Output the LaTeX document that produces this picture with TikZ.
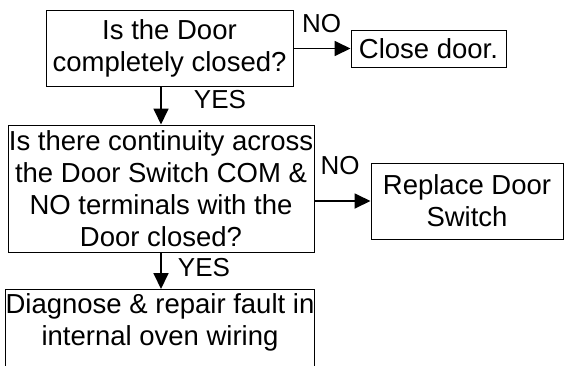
\documentclass[tikz,border=0pt]{standalone}
\usepackage{fontspec}
\setmainfont{Liberation Sans}
\usetikzlibrary{arrows.meta}
\begin{document}
\begin{tikzpicture}[x=1pt,y=-1pt,
  box/.style={draw=black, line width=1pt, inner sep=0pt, align=center,
    font=\fontsize{27.5}{32}\selectfont},
  lbl/.style={inner sep=0pt, font=\fontsize{26}{30}\selectfont},
  arr/.style={line width=1.8pt, -{Triangle[length=16pt,width=15pt]}}]
\useasboundingbox (0,0) rectangle (569,365);
\clip (0,0) rectangle (569,365);
\fill[white] (0,0) rectangle (569,365);

\node[box, minimum width=247pt, minimum height=76pt] (q1) at (169.5,48)
  {Is the Door\\completely closed?};
\node[box, minimum width=155pt, minimum height=37pt] (close) at (428.5,48.5)
  {Close door.};
\node[box, minimum width=306pt, minimum height=127pt] (q2) at (161,188.5)
  {Is there continuity across\\the Door Switch COM \&\\NO terminals with the\\Door closed?};
\node[box, minimum width=192pt, minimum height=76pt] (repl) at (467,201)
  {Replace Door\\Switch};
\node[box, draw=none, minimum width=304pt, minimum height=66pt, anchor=north] (fix) at (160,289)
  {Diagnose \& repair fault in\\internal oven wiring};
\draw[line width=1pt] ([yshift=-30pt]fix.south west) -- (fix.north west)
  -- (fix.north east) -- ([yshift=-30pt]fix.south east);

\node[lbl] (no1) at (321.5,23.5) {NO};
\node[lbl] (no2) at (340,166) {NO};
\node[lbl] (yes1) at (220,100) {YES};
\node[lbl] (yes2) at (204,268) {YES};

\draw[arr] (q1.east |- close.west) -- (close.west);
\draw[arr] (q2.east |- repl.west) -- (repl.west);
\draw[arr] (q2.north |- q1.south) -- (q2.north);
\draw[arr] (q2.south) -- (q2.south |- fix.north);
\end{tikzpicture}
\end{document}
